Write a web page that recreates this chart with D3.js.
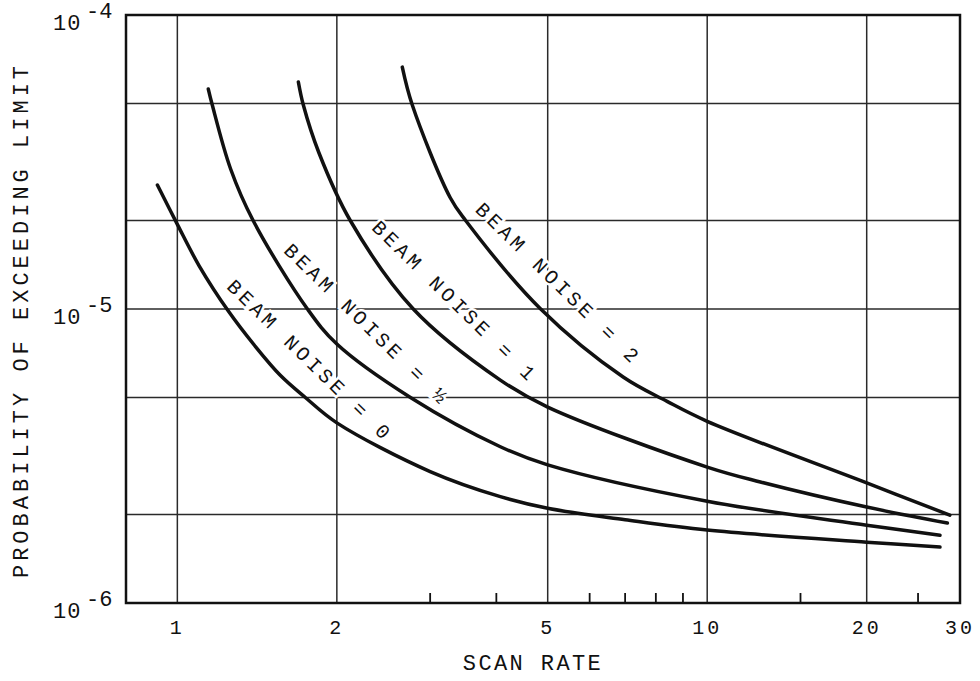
<!DOCTYPE html>
<html lang="en">
<head>
	<title>Probability of exceeding limit vs scan rate</title>
	<meta charset="utf-8">
	<script src="https://d3js.org/d3.v7.min.js" charset="utf-8"></script>
	<style>
		body { margin: 0; background: #fff; }
		text { font-family: "Liberation Mono", "DejaVu Sans Mono", monospace; fill: #111; }
	</style>
</head>
<body>
	<script>
		// tick values and labels
		var xTickValues = [1, 2, 5, 10, 20, 30];
		var xTickLabels = ["1", "2", "5", "10", "20", "30"];
		var xGridValues = [1, 2, 5, 10, 20];
		var xMinorValues = [3, 4, 6, 7, 8, 9, 15, 25];
		var yGridValues = [2e-6, 5e-6, 1e-5, 2e-5, 5e-5];
		var yTickValues = [1e-6, 1e-5, 1e-4];
		var yTickExponents = ["-6", "-5", "-4"];

		// curves: [scan rate, probability]
		var noise0 = [[0.917, 2.64e-5], [1.0, 1.94e-5], [1.1, 1.4e-5], [1.25, 9.8e-6], [1.4, 7.5e-6],
			[1.564, 5.95e-6], [1.744, 5.0e-6], [2.0, 4.1e-6], [3.0, 2.8e-6], [4.07, 2.3e-6],
			[5.0, 2.1e-6], [7.0, 1.92e-6], [10, 1.77e-6], [20, 1.61e-6], [27.5, 1.55e-6]];
		var noiseHalf = [[1.144, 5.6e-5], [1.164, 4.94e-5], [1.26, 3.0e-5], [1.39, 2.0e-5], [1.76, 1.0e-5],
			[2.0, 7.6e-6], [2.754, 5.0e-6], [4.07, 3.4e-6], [5.0, 2.95e-6],
			[10, 2.22e-6], [20, 1.84e-6], [27.5, 1.70e-6]];
		var noise1 = [[1.692, 5.92e-5], [1.729, 4.94e-5], [1.85, 3.4e-5], [2.12, 2.0e-5],
			[2.788, 1.0e-5], [4.07, 5.73e-6], [5.0, 4.64e-6], [10, 2.9e-6],
			[12.6, 2.58e-6], [20, 2.12e-6], [28.4, 1.87e-6]];
		var noise2 = [[2.658, 6.65e-5], [2.776, 4.94e-5], [3.274, 2.39e-5], [3.5, 2.0e-5],
			[4.85, 1.0e-5], [6.94, 5.87e-6], [8.4, 4.85e-6], [10, 4.15e-6],
			[20, 2.56e-6], [28.7, 1.99e-6]];

		var curves = [noise0, noiseHalf, noise1, noise2];
		var curveLabels = ["BEAM NOISE = 0", "BEAM NOISE = \u00bd", "BEAM NOISE = 1", "BEAM NOISE = 2"];
		// where each label sits (middle of the text), in data units
		var labelAt = [[1.774, 6.63e-6], [2.273, 8.79e-6], [3.332, 1.052e-5], [5.224, 1.211e-5]];

		drawChart();

		function drawChart() {
		var w = 980;
		var h = 681;
		// plot box edges (note: "top" is taken by window.top, so use other names)
		var pLeft = 126, pRight = 960, pTop = 15, pBottom = 603;

		var x = d3.scaleLog().domain([0.8, 30]).range([pLeft, pRight]);
		var y = d3.scaleLog().domain([1e-6, 1e-4]).range([pBottom, pTop]);

		var svg = d3.select("body")
			.append("svg")
			.attr("width", w)
			.attr("height", h);

		// grid
		svg.selectAll("line.vgrid")
			.data(xGridValues)
			.enter()
			.append("line")
			.attr("class", "vgrid")
			.attr("x1", function(d) { return x(d); })
			.attr("x2", function(d) { return x(d); })
			.attr("y1", pTop)
			.attr("y2", pBottom)
			.attr("stroke", "#2a2a2a")
			.attr("stroke-width", 1.5);

		svg.selectAll("line.hgrid")
			.data(yGridValues)
			.enter()
			.append("line")
			.attr("class", "hgrid")
			.attr("x1", pLeft)
			.attr("x2", pRight)
			.attr("y1", function(d) { return y(d); })
			.attr("y2", function(d) { return y(d); })
			.attr("stroke", "#2a2a2a")
			.attr("stroke-width", 1.5);

		// little ticks on the bottom edge, pointing up
		svg.selectAll("line.minor")
			.data(xMinorValues)
			.enter()
			.append("line")
			.attr("class", "minor")
			.attr("x1", function(d) { return x(d); })
			.attr("x2", function(d) { return x(d); })
			.attr("y1", pBottom)
			.attr("y2", pBottom - 10)
			.attr("stroke", "#111")
			.attr("stroke-width", 1.8);

		// frame
		svg.append("rect")
			.attr("x", pLeft)
			.attr("y", pTop)
			.attr("width", pRight - pLeft)
			.attr("height", pBottom - pTop)
			.attr("fill", "none")
			.attr("stroke", "#111")
			.attr("stroke-width", 2.5);

		// curve labels, white halo breaks the grid behind them like the original
		svg.selectAll("text.curveLabel")
			.data(curveLabels)
			.enter()
			.append("text")
			.attr("class", "curveLabel")
			.attr("transform", function(d, i) {
				return "translate(" + x(labelAt[i][0]) + "," + y(labelAt[i][1]) + ") rotate(44.3)";
			})
			.attr("text-anchor", "middle")
			.attr("dominant-baseline", "central")
			.style("font-size", "20px")
			.style("letter-spacing", "3.9px")
			.style("paint-order", "stroke")
			.attr("stroke", "#fff")
			.attr("stroke-width", 5)
			.text(function(d) { return d; });

		// curves
		var line = d3.line()
			.x(function(d) { return x(d[0]); })
			.y(function(d) { return y(d[1]); })
			.curve(d3.curveCatmullRom.alpha(0.5));

		svg.selectAll("path.curve")
			.data(curves)
			.enter()
			.append("path")
			.attr("class", "curve")
			.attr("d", line)
			.attr("fill", "none")
			.attr("stroke", "#111")
			.attr("stroke-width", 3.5)
			.attr("stroke-linecap", "round");

		// x tick labels
		svg.selectAll("text.xtick")
			.data(xTickValues)
			.enter()
			.append("text")
			.attr("class", "xtick")
			.attr("x", function(d) { return x(d); })
			.attr("y", pBottom + 31)
			.attr("text-anchor", "middle")
			.style("font-size", "20px")
			.style("letter-spacing", "3px")
			.text(function(d, i) { return xTickLabels[i]; });

		// y tick labels as 10 with a raised exponent
		var yt = svg.selectAll("g.ytick")
			.data(yTickValues)
			.enter()
			.append("g")
			.attr("class", "ytick");

		yt.append("text")
			.attr("x", 53)
			.attr("y", function(d) { return y(d) + 15; })
			.style("font-size", "22px")
			.style("letter-spacing", "1px")
			.text("10");

		yt.append("text")
			.attr("x", 86)
			.attr("y", function(d) { return y(d) + 3; })
			.style("font-size", "22px")
			.text(function(d, i) { return yTickExponents[i]; });

		// axis titles
		svg.append("text")
			.attr("x", 533)
			.attr("y", 670)
			.attr("text-anchor", "middle")
			.style("font-size", "22px")
			.style("letter-spacing", "2.4px")
			.text("SCAN RATE");

		svg.append("text")
			.attr("text-anchor", "middle")
			.attr("transform", "translate(28, 320) rotate(-90)")
			.style("font-size", "22px")
			.style("letter-spacing", "4px")
			.text("PROBABILITY OF EXCEEDING LIMIT");
		}
	</script>
</body>
</html>
